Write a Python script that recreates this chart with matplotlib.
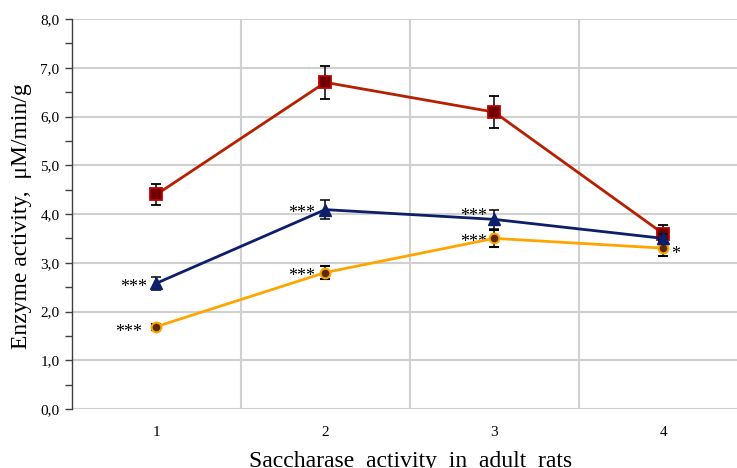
import numpy as np
import matplotlib
matplotlib.use('Agg')
import matplotlib.pyplot as plt
from matplotlib.ticker import MultipleLocator

plt.rcParams['font.family'] = ['Liberation Serif', 'DejaVu Serif']

# --- data ---
groups = [1, 2, 3, 4]
red_vals = [4.40, 6.70, 6.09, 3.60]
red_err = [0.22, 0.34, 0.33, 0.17]
blue_vals = [2.58, 4.09, 3.89, 3.50]
blue_err = [0.13, 0.20, 0.20, 0.10]
orange_vals = [1.69, 2.80, 3.50, 3.30]
orange_err = [0.06, 0.14, 0.17, 0.16]
y_ticks = [0, 1, 2, 3, 4, 5, 6, 7, 8]

# significance marks next to the points
blue_marks = ['***', '***', '***', '']
orange_marks = ['***', '***', '***', '*']

fig = plt.figure(figsize=(7.37, 4.68), dpi=100)
# axes run past the right edge of the picture, as in the reference
ax = fig.add_axes([72 / 737, 59 / 468, 675.5 / 737, 390 / 468])

ax.set_xlim(0.5, 4.5)
ax.set_ylim(0, 8)
ax.set_yticks(y_ticks)
ax.set_yticklabels([f'{v:.1f}'.replace('.', ',') for v in y_ticks])
ax.yaxis.set_minor_locator(MultipleLocator(0.5))
ax.set_xticks(groups)
ax.set_xticklabels([str(g) for g in groups])

# grid: horizontal at integers, vertical between categories
for yv in y_ticks:
    ax.axhline(yv, color='#d0d0d0', lw=1.5, zorder=0)
for xv in [1.5, 2.5, 3.5]:
    ax.axvline(xv, color='#d0d0d0', lw=1.5, zorder=0)

for s in ['top', 'right', 'bottom']:
    ax.spines[s].set_visible(False)
ax.spines['left'].set_color('#404040')
ax.spines['left'].set_linewidth(1.0)
ax.tick_params(axis='y', which='both', length=5, width=1, color='#404040',
               labelsize=11, pad=4)
ax.tick_params(axis='x', length=0, labelsize=11, pad=12)

ekw = dict(ecolor='black', elinewidth=1.1, capsize=3.5, capthick=1.1)

ax.errorbar(groups, red_vals, yerr=red_err, color='#b52000', lw=2,
            marker='s', markersize=9, markerfacecolor='#6e0000',
            markeredgecolor='#c00000', markeredgewidth=1.3, zorder=3, **ekw)
ax.errorbar(groups, orange_vals, yerr=orange_err, color='#ffa500', lw=2,
            marker='o', markersize=7, markerfacecolor='#5a2a00',
            markeredgecolor='#ffa500', markeredgewidth=1.5, zorder=4, **ekw)
ax.errorbar(groups, blue_vals, yerr=blue_err, color='#0d1f6b', lw=2,
            marker='^', markersize=9, markerfacecolor='#0d1f6b',
            markeredgecolor='#0d1f6b', zorder=5, **ekw)

# offsets (points) of the star labels from their data point
blue_offs = [(-6.5, -6.0), (-7.2, -6.0), (-5.0, -0.9), (0, 0)]
orange_offs = [(-10.0, -7.4), (-7.2, -6.0), (-5.0, -6.0), (5.5, -8.1)]

for g, v, m, off in zip(groups, blue_vals, blue_marks, blue_offs):
    if m:
        ax.annotate(m, (g, v), xytext=off, textcoords='offset points',
                    ha='right', va='baseline', fontsize=13)
for g, v, m, off in zip(groups, orange_vals, orange_marks, orange_offs):
    if m:
        ax.annotate(m, (g, v), xytext=off, textcoords='offset points',
                    ha='left' if off[0] > 0 else 'right', va='baseline',
                    fontsize=13)

fig.text(22 / 737, 1 - 216 / 468, 'Enzyme activity,  \u03bcM/min/g',
         rotation=90, ha='center', va='center', fontsize=17)
fig.text(411 / 737, 1 / 468, 'Saccharase  activity  in  adult  rats',
         ha='center', va='baseline', fontsize=17)

fig.savefig('out.png', dpi=100)
